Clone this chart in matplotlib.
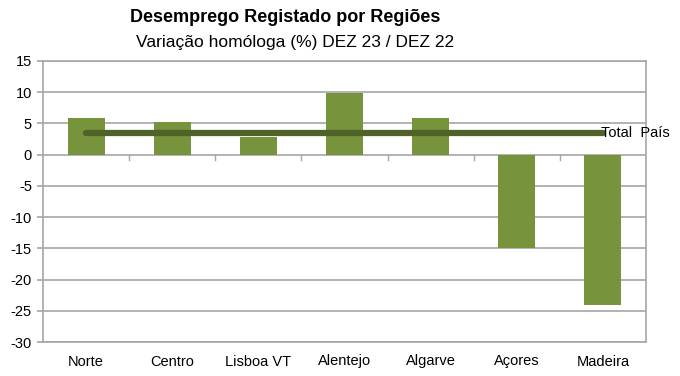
import matplotlib
matplotlib.use("Agg")
import matplotlib.pyplot as plt
import numpy as np

# data
regioes = ["Norte", "Centro", "Lisboa VT", "Alentejo", "Algarve", "Açores", "Madeira"]
variacao = [5.8, 5.3, 2.9, 9.9, 5.9, -14.9, -24.0]
total_pais = 3.5
yticks = list(range(-30, 16, 5))

plt.rcParams['font.family'] = ['Liberation Sans', 'DejaVu Sans']

fig = plt.figure(figsize=(6.8, 3.76), dpi=100)
ax = fig.add_axes([43 / 680, 1 - 342 / 376, 603 / 680, 281 / 376])

x = np.arange(len(regioes))
ax.bar(x, variacao, width=0.43, color='#77933C', zorder=2)
ax.plot([x[0], x[-1]], [total_pais, total_pais], color='#4F6228', lw=4.5,
        solid_capstyle='round', zorder=3)
ax.text(x[-1] - 0.02, total_pais, "Total  País", fontsize=10.5, va='center', ha='left', zorder=4)

ax.set_xlim(-0.5, len(regioes) - 0.5)
ax.set_ylim(-30, 15)
ax.set_yticks(yticks)
ax.set_yticklabels([str(v) for v in yticks])
ax.yaxis.grid(True, color='#A6A6A6', lw=1.2, zorder=0)
ax.set_xticks(x)
ax.set_xticklabels(regioes)
ax.tick_params(axis='x', length=0, pad=9, labelsize=10.5)
ax.tick_params(axis='y', length=4, color='#A6A6A6', width=1.2, labelsize=10.5, pad=4)
for s in ax.spines.values():
    s.set_color('#A6A6A6')
    s.set_linewidth(1.2)

# small category ticks on the zero line
for b in np.arange(0.5, len(regioes) - 0.5):
    ax.plot([b, b], [0, -0.8], color='#A6A6A6', lw=1, zorder=1, clip_on=False)

fig.text(285 / 680, 1 - 17 / 376, "Desemprego Registado por Regiões", ha='center', va='center',
         fontsize=13, fontweight='bold')
fig.text(295 / 680, 1 - 42 / 376, "Variação homóloga (%) DEZ 23 / DEZ 22", ha='center', va='center',
         fontsize=12.5)

plt.savefig('out.png', dpi=100)
